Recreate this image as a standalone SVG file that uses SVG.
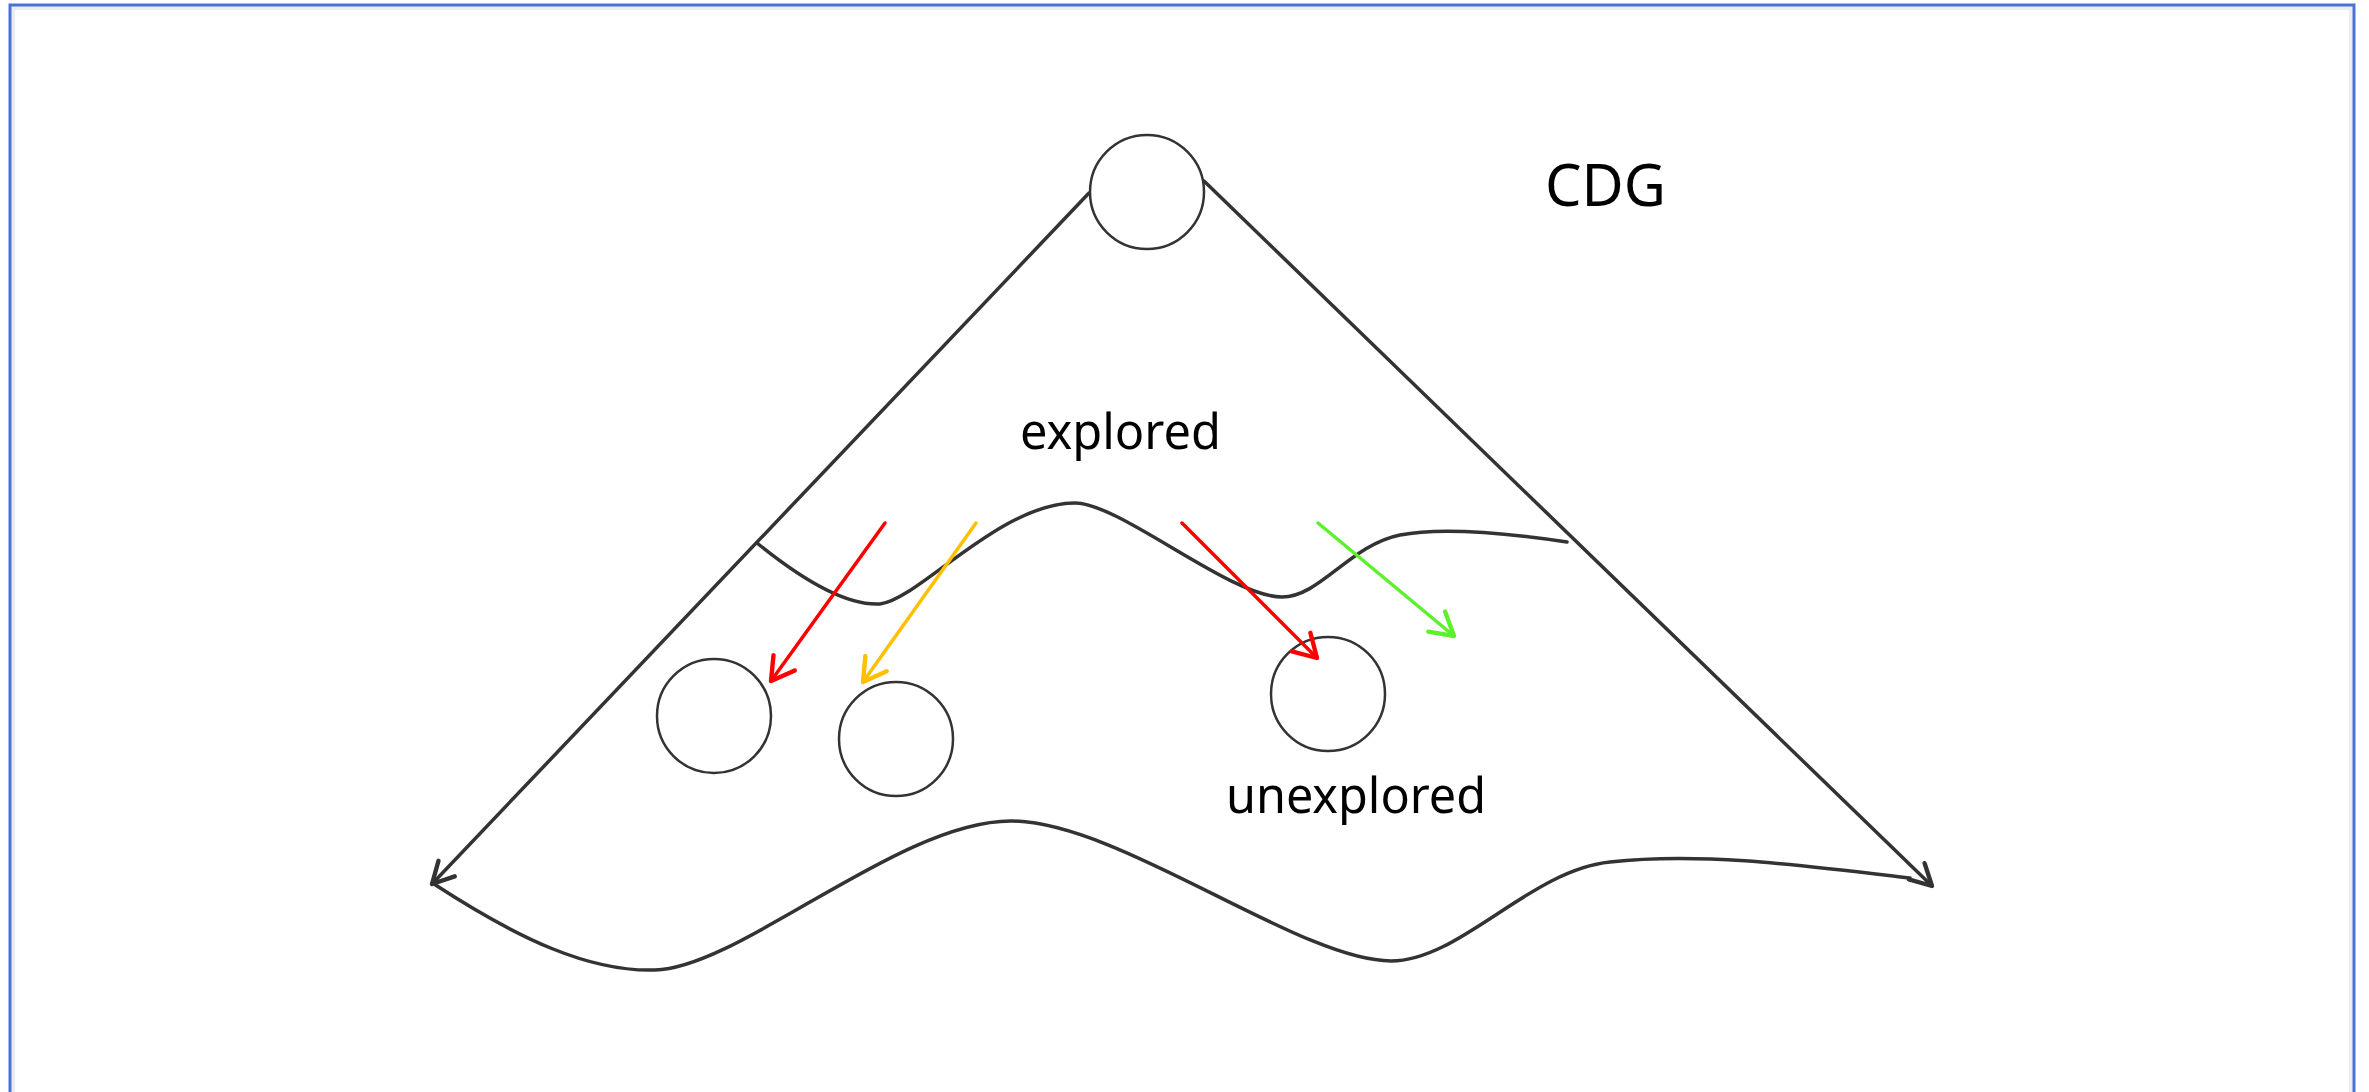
<svg xmlns="http://www.w3.org/2000/svg" width="2369" height="1092" viewBox="0 0 2369 1092">
  <style>
    .edge { fill: none; stroke: #333333; stroke-width: 3.5; stroke-linecap: round; }
    .node { fill: #ffffff; stroke: #333333; stroke-width: 2.5; }
    .probe { fill: none; stroke-width: 3.5; stroke-linecap: round; }
    .label { font-family: "Noto Sans", "Open Sans", sans-serif; fill: #000000; }
  </style>
  <defs>
    <marker id="headDark" markerUnits="userSpaceOnUse" markerWidth="40" markerHeight="40" viewBox="-24 -16 28 32" refX="0" refY="0" orient="auto">
      <path d="M-17,-9 L0,0 L-17,9" fill="none" stroke="#333333" stroke-width="3.5" stroke-linecap="round" stroke-linejoin="round"/>
    </marker>
    <marker id="headRed" markerUnits="userSpaceOnUse" markerWidth="40" markerHeight="40" viewBox="-24 -16 28 32" refX="0" refY="0" orient="auto">
      <path d="M-18,-10.5 L0,0 L-18,10.5" fill="none" stroke="#ff0000" stroke-width="3.5" stroke-linecap="round" stroke-linejoin="round"/>
    </marker>
    <marker id="headAmber" markerUnits="userSpaceOnUse" markerWidth="40" markerHeight="40" viewBox="-24 -16 28 32" refX="0" refY="0" orient="auto">
      <path d="M-18,-10.5 L0,0 L-18,10.5" fill="none" stroke="#ffc000" stroke-width="3.5" stroke-linecap="round" stroke-linejoin="round"/>
    </marker>
    <marker id="headGreen" markerUnits="userSpaceOnUse" markerWidth="40" markerHeight="40" viewBox="-24 -16 28 32" refX="0" refY="0" orient="auto">
      <path d="M-18,-10.5 L0,0 L-18,10.5" fill="none" stroke="#5ef02e" stroke-width="3.5" stroke-linecap="round" stroke-linejoin="round"/>
    </marker>
  </defs>

  <!-- canvas and frame -->
  <rect x="0" y="0" width="2369" height="1092" fill="#ffffff"/>
  <rect x="13" y="8" width="2338" height="1100" fill="none" stroke="#ededed" stroke-width="4"/>
  <rect x="10" y="5" width="2344" height="1110" fill="none" stroke="#4a74d4" stroke-width="3"/>

  <!-- nodes -->
  <g id="root">
    <circle class="node" cx="1147" cy="192" r="57"/>
  </g>
  <g id="node-a">
    <circle class="node" cx="714" cy="716" r="57"/>
  </g>
  <g id="node-b">
    <circle class="node" cx="896" cy="739" r="57"/>
  </g>
  <g id="node-c">
    <circle class="node" cx="1328" cy="694" r="57"/>
  </g>

  <!-- connectors -->
  <g id="connectors">
    <line class="edge" x1="1089" y1="193" x2="432" y2="884" marker-end="url(#headDark)"/>
    <line class="edge" x1="1204" y1="181" x2="1932" y2="886" marker-end="url(#headDark)"/>
    <!-- frontier between explored and unexplored space -->
    <path class="edge" d="M757,543 C800,578 845,606 880,604 C918,600 1000,503 1075,503 C1120,503 1230,597 1282,597 C1320,597 1350,545 1400,535 C1440,527 1500,532 1567,542"/>
    <!-- outer boundary -->
    <path class="edge" d="M434,884 C520,940 590,972 655,970 C740,968 900,820 1012,821 C1120,822 1300,961 1391,961 C1460,961 1530,870 1610,862 C1700,852 1800,865 1910,878"/>
    <!-- expansion directions -->
    <line class="probe" stroke="#ff0000" x1="885" y1="523" x2="771" y2="681" marker-end="url(#headRed)"/>
    <line class="probe" stroke="#ffc000" x1="976" y1="523" x2="863" y2="682" marker-end="url(#headAmber)"/>
    <line class="probe" stroke="#ff0000" x1="1182" y1="523" x2="1317" y2="658" marker-end="url(#headRed)"/>
    <line class="probe" stroke="#5ef02e" x1="1318" y1="523" x2="1454" y2="636" marker-end="url(#headGreen)"/>
  </g>

  <!-- labels -->
  <text class="label" x="1545" y="206" font-size="58" textLength="121" lengthAdjust="spacingAndGlyphs">CDG</text>
  <text class="label" x="1020" y="449" font-size="50" textLength="201" lengthAdjust="spacingAndGlyphs">explored</text>
  <text class="label" x="1226" y="813" font-size="50" textLength="260" lengthAdjust="spacingAndGlyphs">unexplored</text>
</svg>
